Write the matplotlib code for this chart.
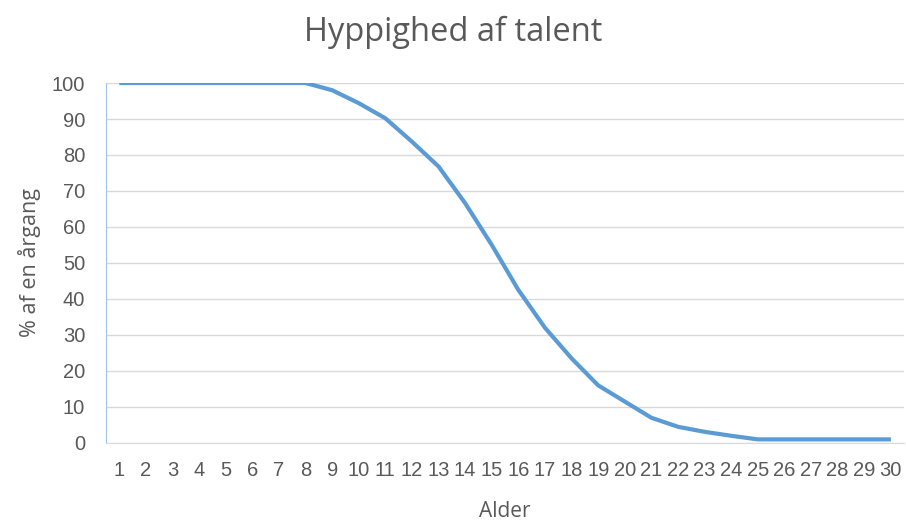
import matplotlib
matplotlib.use("Agg")
import matplotlib.pyplot as plt

ages = list(range(1, 31))
pct = [100, 100, 100, 100, 100, 100, 100, 100, 98, 94.4, 90.2, 83.7, 76.8, 66.6, 55,
       42.5, 32, 23.5, 16, 11.5, 7, 4.5, 3.1, 2, 1, 1, 1, 1, 1, 1]
title = "Hyppighed af talent"
xlabel = "Alder"
ylabel = "% af en årgang"

plt.rcParams['font.family'] = ['Open Sans', 'Liberation Sans', 'DejaVu Sans']
tickfont = ['Liberation Sans', 'DejaVu Sans']
txt = "#595959"

fig = plt.figure(figsize=(9.06, 5.24), dpi=100)
ax = fig.add_axes([0.117, 0.1546, 0.881, 0.687])
ax.plot(ages, pct, color="#5B9BD5", lw=3.0, solid_capstyle="butt", zorder=3)
ax.set_xlim(0.5, 30.5)
ax.set_ylim(0, 100)
ax.set_yticks(range(0, 101, 10))
ax.set_xticks(ages)
ax.set_xticklabels([str(a) for a in ages], family=tickfont)
ax.set_yticklabels([str(v) for v in range(0, 101, 10)], family=tickfont)
ax.grid(axis="y", color="#D9D9D9", lw=1)
ax.set_axisbelow(True)
for s in ["top", "right"]:
    ax.spines[s].set_visible(False)
ax.spines["left"].set_color("#9DC3E6")
ax.spines["bottom"].set_color("#D9D9D9")
ax.tick_params(axis="both", length=0, labelsize=14.5, colors=txt)
ax.tick_params(axis="x", pad=13)
ax.tick_params(axis="y", pad=15)
ax.set_xlabel(xlabel, fontsize=15, color=txt, labelpad=15)
ax.set_ylabel(ylabel, fontsize=15.5, color=txt, labelpad=8)
fig.text(0.5, 0.938, title, ha="center", va="center", fontsize=23.5, color=txt)
fig.savefig("out.png", dpi=100, facecolor="white")
